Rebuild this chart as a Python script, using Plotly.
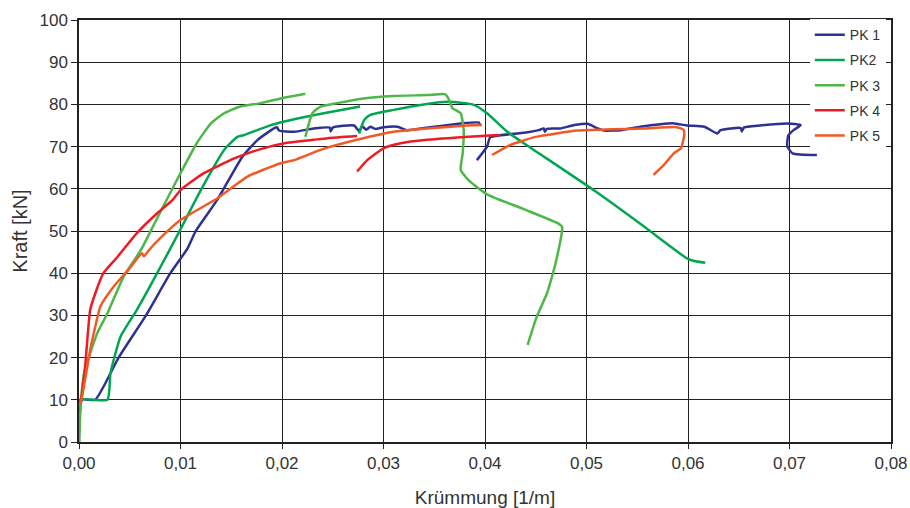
import plotly.graph_objects as go

# ---- data (curvature [1/m], force [kN]); None = gap between measured segments ----
pk1_x = [0, 0.0003, 0.0016, 0.0039, 0.0066, 0.0090, 0.0107, 0.0115, 0.0136, 0.0161, 0.0176, 0.0192, 0.0195, 0.0197,
         0.0212, 0.0231, 0.0247, 0.0248, 0.0250, 0.0271, 0.0276, 0.0279, 0.0283, 0.0287, 0.0292, 0.0300, 0.0314,
         0.0323, 0.0350, 0.0376, 0.0394, 0.0395, None,
         0.0392, 0.0402, 0.0405, 0.0415, 0.0442, 0.0453, 0.0458, 0.0459, 0.0461, 0.0474, 0.0488, 0.0501, 0.0511,
         0.0517, 0.0534, 0.0553, 0.0573, 0.0586, 0.0599, 0.0616, 0.0629, 0.0632, 0.0652, 0.0653, 0.0655, 0.0671,
         0.0698, 0.0711, 0.0704, 0.0699, 0.0698, 0.0698, 0.0703, 0.0727]
pk1_y = [0, 10, 10, 20, 30, 40, 45.9, 50, 57.3, 67.6, 71.6, 74.3, 74.6, 73.8,
         73.5, 74.3, 74.5, 73.6, 74.5, 75.0, 73.7, 74.8, 74.0, 74.7, 74.2, 74.6, 74.7,
         73.9, 74.7, 75.5, 75.7, 75.0, None,
         66.8, 70.0, 72.2, 72.7, 73.4, 73.9, 74.3, 73.5, 74.2, 74.3, 75.1, 75.4, 74.3,
         73.8, 73.9, 74.7, 75.3, 75.5, 75.0, 74.7, 73.1, 73.9, 74.4, 73.6, 74.5, 75.0,
         75.5, 75.1, 73.9, 72.7, 71.6, 70.0, 68.4, 68.0]

pk2_x = [0, 0, 0.0028, 0.0031, 0.0041, 0.0057, 0.0077, 0.0098, 0.0120, 0.0143, 0.0156, 0.0162, 0.0189, 0.0212,
         0.0245, 0.0277, None,
         0.0276, 0.0281, 0.0287, 0.0310, 0.0343, 0.0363, 0.0376, 0.0389, 0.0402, 0.0422, 0.0442, 0.0507, 0.0557,
         0.0599, 0.0606, 0.0617]
pk2_y = [0, 10, 10, 16.3, 25.0, 31.3, 40.0, 49.5, 59.7, 69.2, 72.3, 72.7, 75.1, 76.5,
         78.1, 79.5, None,
         73.1, 76.3, 77.5, 78.7, 80.1, 80.6, 80.4, 79.9, 77.9, 73.5, 70.2, 59.7, 51.0,
         43.5, 42.9, 42.5]

pk3_x = [0, 0.0002, 0.0005, 0.0018, 0.0028, 0.0044, 0.0061, 0.0078, 0.0100, 0.0116, 0.0130, 0.0143, 0.0159,
         0.0179, 0.0199, 0.0223, None,
         0.0223, 0.0230, 0.0238, 0.0254, 0.0277, 0.0310, 0.0343, 0.0361, 0.0364, 0.0368, 0.0376, 0.0379, 0.0378,
         0.0376, 0.0384, 0.0402, 0.0438, 0.0472, 0.0476, 0.0476, 0.0471, 0.0466, 0.0461, 0.0451, 0.0442]
pk3_y = [0, 10, 16.3, 25.8, 30.5, 39.2, 45.5, 53.5, 63.7, 70.8, 75.5, 77.9, 79.5,
         80.3, 81.4, 82.5, None,
         72.3, 77.9, 79.5, 80.3, 81.3, 82.0, 82.2, 82.4, 81.4, 79.1, 77.9, 73.9, 68.4,
         64.5, 62.0, 58.7, 55.2, 51.8, 51.0, 50.2, 43.9, 39.2, 35.2, 29.7, 23.0]

pk4_x = [0.0001, 0.0002, 0.0006, 0.0011, 0.0016, 0.0024, 0.0038, 0.0057, 0.0077, 0.0092, 0.0100, 0.0123,
         0.0153, 0.0179, 0.0205, 0.0231, 0.0245, 0.0274, None,
         0.0274, 0.0284, 0.0300, 0.0317, 0.0343, 0.0376, 0.0409, 0.0415]
pk4_y = [9.0, 10, 17.8, 31.3, 35.2, 40.0, 43.9, 49.5, 54.2, 57.3, 59.7, 63.7,
         67.2, 69.4, 70.9, 71.6, 72.0, 72.5, None,
         64.1, 66.8, 69.6, 70.8, 71.6, 72.2, 72.7, 72.7]

pk5_x = [0.0001, 0.0003, 0.0011, 0.0016, 0.0021, 0.0034, 0.0051, 0.0062, 0.0064, 0.0069, 0.0080, 0.0100,
         0.0136, 0.0166, 0.0198, 0.0212, 0.0240, 0.0277, 0.0310, 0.0343, 0.0376, 0.0397, None,
         0.0407, 0.0425, 0.0450, 0.0491, 0.0524, 0.0557, 0.0589, 0.0596, 0.0596, 0.0593, 0.0586, 0.0576, 0.0566]
pk5_y = [9.0, 10.7, 21.8, 27.3, 32.1, 36.8, 41.5, 44.7, 44.0, 45.5, 48.3, 52.6,
         57.7, 62.9, 66.0, 66.8, 69.4, 71.8, 73.5, 74.3, 74.9, 75.1, None,
         68.0, 70.4, 72.3, 73.8, 74.1, 74.3, 74.6, 73.9, 72.3, 69.6, 68.4, 65.6, 63.3]

series_names = ["PK 1", "PK2", "PK 3", "PK 4", "PK 5"]
series_colors = ["#2E3192", "#00A651", "#4DB848", "#ED1C24", "#F15A24"]
series_x = [pk1_x, pk2_x, pk3_x, pk4_x, pk5_x]
series_y = [pk1_y, pk2_y, pk3_y, pk4_y, pk5_y]

x_ticks = [0, 0.01, 0.02, 0.03, 0.04, 0.05, 0.06, 0.07, 0.08]
x_tick_labels = ["0,00", "0,01", "0,02", "0,03", "0,04", "0,05", "0,06", "0,07", "0,08"]
y_ticks = [0, 10, 20, 30, 40, 50, 60, 70, 80, 90, 100]

fig = go.Figure()
for name, color, xs, ys in zip(series_names, series_colors, series_x, series_y):
    fig.add_trace(go.Scatter(x=xs, y=ys, mode="lines", name=name, legendgroup=name,
                             line=dict(color=color, width=2.5, shape="spline", smoothing=0.5),
                             connectgaps=False))

font_family = "Liberation Sans, Arial, sans-serif"
fig.update_layout(
    width=910, height=508,
    margin=dict(l=79, r=19, t=20, b=66),
    paper_bgcolor="white", plot_bgcolor="white",
    font=dict(family=font_family, color="#222"),
    legend=dict(x=0.9, y=1.002, xanchor="left", yanchor="top", bgcolor="white",
                borderwidth=0, font=dict(size=14, family=font_family, color="#333"),
                traceorder="grouped", tracegroupgap=4, itemwidth=30),
    showlegend=True,
)
fig.update_xaxes(range=[0, 0.08], tickvals=x_ticks, ticktext=x_tick_labels, automargin=False,
                 showgrid=True, gridcolor="#222", gridwidth=1.3,
                 showline=True, linecolor="#222", linewidth=1.5, mirror=True,
                 ticks="outside", ticklen=5, tickcolor="#222",
                 tickfont=dict(size=17, family=font_family, color="#333"),
                 title=dict(text="Krümmung [1/m]", font=dict(size=19, family=font_family, color="#333"), standoff=20),
                 zeroline=False)
fig.update_yaxes(range=[0, 100], tickvals=y_ticks, automargin=False,
                 showgrid=True, gridcolor="#222", gridwidth=1.3,
                 showline=True, linecolor="#222", linewidth=1.5, mirror=True,
                 ticks="outside", ticklen=6, tickcolor="#222",
                 tickfont=dict(size=17, family=font_family, color="#333"),
                 title=dict(text="Kraft [kN]", font=dict(size=20, family=font_family, color="#333"), standoff=6),
                 zeroline=False)

fig.write_html("out.html", config={"displayModeBar": False},
               post_script="document.body.style.margin='0';document.body.style.padding='0';document.body.style.overflow='hidden';")
